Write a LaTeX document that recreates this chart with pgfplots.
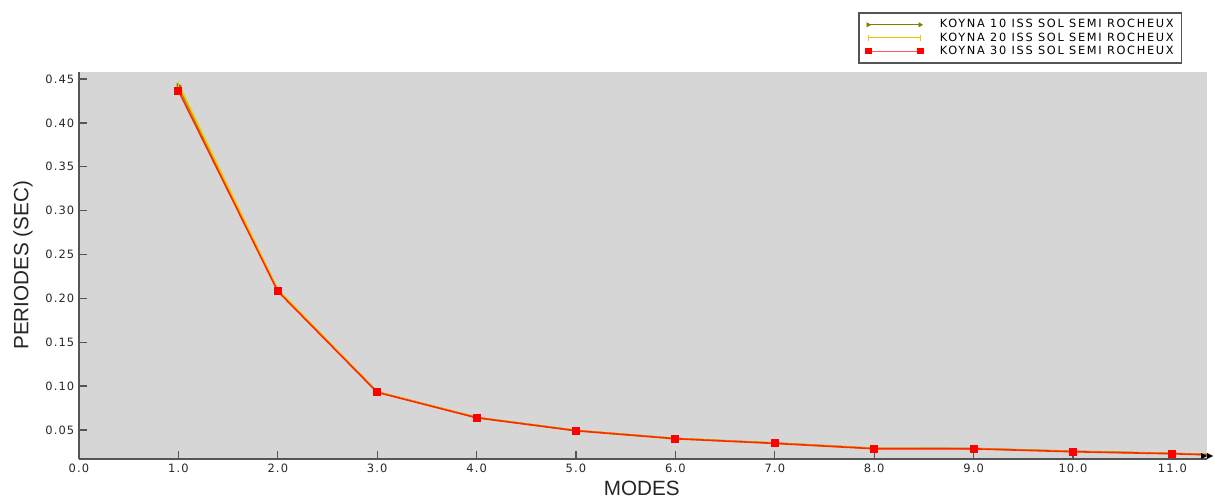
\documentclass[border=0pt]{standalone}
\usepackage{pgfplots}
\pgfplotsset{compat=1.18}
\usepackage{fontspec}
\setmainfont{DejaVu Sans}
\newfontfamily\tickfont[LetterSpace=10]{DejaVu Sans}
\newfontfamily\legfont[LetterSpace=15]{DejaVu Sans}
\newfontfamily\labfont{Liberation Sans}
\definecolor{bggray}{RGB}{214,214,214}
\definecolor{axgray}{RGB}{85,85,85}
\definecolor{olivel}{RGB}{128,128,0}
\definecolor{yell}{RGB}{240,200,0}
\definecolor{redl}{RGB}{255,40,0}
\definecolor{legred}{RGB}{255,90,90}
\begin{document}
\begin{tikzpicture}[x=0.75pt,y=0.75pt]
\useasboundingbox (-79,-38) rectangle (1136,459);
\begin{axis}[
  at={(0,0)}, anchor=origin,
  scale only axis,
  width=1127.7*0.75pt, height=387.5*0.75pt,
  xmin=0, xmax=11.345, ymin=0.017, ymax=0.4585,
  axis background/.style={fill=bggray},
  axis x line*=bottom, axis y line*=left,
  axis line style={-, axgray, line width=1.5pt},
  xtick={0,1,...,11},
  ytick={0.05,0.10,...,0.46},
  tick align=inside,
  major tick length=6pt,
  tick style={axgray, line width=1pt},
  /pgf/number format/assume math mode=true,
  xticklabel style={/pgf/number format/.cd, fixed, fixed zerofill, precision=1},
  yticklabel style={/pgf/number format/.cd, fixed, fixed zerofill, precision=2},
  ticklabel style={font=\tickfont\fontsize{8.6}{9}\selectfont, text=black!85},
  xlabel={MODES}, ylabel={PERIODES (SEC)},
  label style={font=\labfont\fontsize{15.5}{17}\selectfont, text=black!85},
  xlabel style={at={(axis description cs:0.499,-0.0746)}, anchor=center},
  ylabel style={at={(axis description cs:-0.0496,0.5)}, anchor=center},
  clip=true,
  legend style={at={(axis description cs:0.6912,1.1536)}, anchor=north west,
    draw=axgray, line width=1.2pt, fill=white,
    font=\legfont\fontsize{8.5}{10}\selectfont,
    inner xsep=4.4pt, inner ysep=3.5pt, row sep=-1.2pt, column sep=11pt,
    nodes={inner sep=1.6pt}},
  legend image code/.code={\draw[#1, line width=0.6pt] plot coordinates {(0pt,0pt) (39pt,0pt)};},
  legend cell align=left,
]
\addplot[olivel, line width=1.2pt, mark=triangle*, mark size=1.6pt,
  mark options={rotate=-90}] coordinates {
  (1,0.4420) (2,0.2095) (3,0.0935) (4,0.0643) (5,0.0495) (6,0.0404)
  (7,0.0352) (8,0.0292) (9,0.0290) (10,0.0258) (11,0.0234) (12,0.0198)};
\addlegendentry{KOYNA 10 ISS SOL SEMI ROCHEUX}
\addplot[yell, line width=1.2pt, mark=|, mark size=2.2pt] coordinates {
  (1,0.4443) (2,0.2100) (3,0.0935) (4,0.0643) (5,0.0494) (6,0.0403)
  (7,0.0350) (8,0.0290) (9,0.0288) (10,0.0255) (11,0.0232) (12,0.0197)};
\addlegendentry{KOYNA 20 ISS SOL SEMI ROCHEUX}
\addplot[redl, line width=1.2pt, mark=square*, mark size=2.6pt,
  mark options={fill=red, draw=red, line width=0pt},
  legend image post style={legred, mark size=2.2pt, mark options={fill=red, draw=red}}] coordinates {
  (1,0.4367) (2,0.2081) (3,0.0930) (4,0.0640) (5,0.0492) (6,0.0401)
  (7,0.0348) (8,0.0287) (9,0.0286) (10,0.0253) (11,0.0230) (12,0.0195)};
\addlegendentry{KOYNA 30 ISS SOL SEMI ROCHEUX}
\end{axis}
\fill[black] (1122,0) -- (1128,3) -- (1122,6) -- cycle;
\fill[black] (1128,0) -- (1134,3) -- (1128,6) -- cycle;
\end{tikzpicture}
\end{document}
